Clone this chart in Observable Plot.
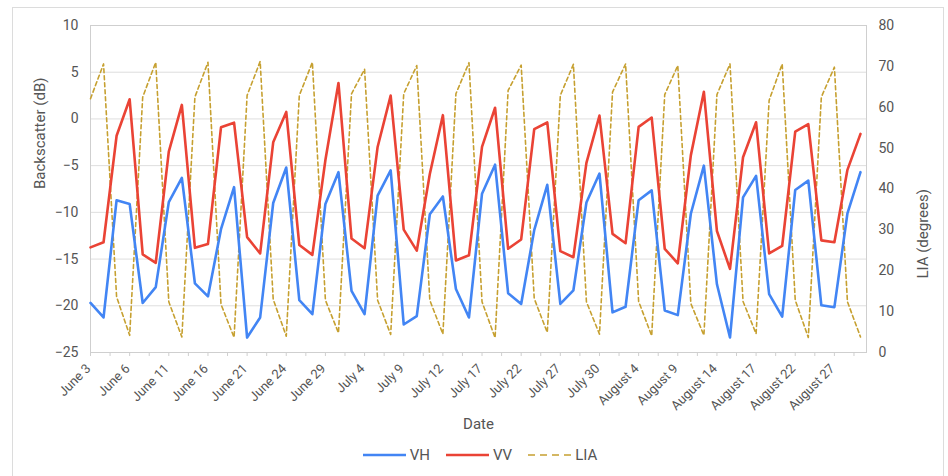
<!DOCTYPE html>
<html>
<head>
<meta charset="utf-8">
<script src="https://cdn.jsdelivr.net/npm/d3@7"></script>
<script src="https://cdn.jsdelivr.net/npm/@observablehq/plot@0.6"></script>
<style>
  html, body { margin: 0; padding: 0; background: #fff; }
  #wrap { position: relative; width: 948px; height: 476px; overflow: hidden; background: #fff; font-family: Roboto, "Liberation Sans", Arial, sans-serif; }
  #border { position: absolute; left: 12px; top: 7px; width: 932px; height: 520px; border: 1px solid #dcdcdc; box-sizing: border-box; }
  #chart { position: absolute; left: 0; top: 0; }
  #legend { position: absolute; left: 0; top: 446px; width: 948px; display: flex; justify-content: center; align-items: center; font-size: 15px; color: #555; padding-left: 12px; box-sizing: border-box; }
  .item { display: flex; align-items: center; margin: 0 8px; }
  .item span { margin-left: 4px; }
</style>
</head>
<body>
<div id="wrap">
  <div id="border"></div>
  <div id="chart"></div>
  <div id="legend"></div>
</div>
<script>
// Tick labels shown on the x axis (every third observation)
const tickLabels = ["June 3", "June 6", "June 11", "June 16", "June 21", "June 24", "June 29",
  "July 4", "July 9", "July 12", "July 17", "July 22", "July 27", "July 30",
  "August 4", "August 9", "August 14", "August 17", "August 22", "August 27"];

// VH backscatter (dB)
const vh = [-19.7, -21.25, -8.7, -9.1, -19.7, -18.0, -8.9, -6.3, -17.6, -19.0,
  -11.8, -7.3, -23.4, -21.25, -9.0, -5.2, -19.4, -20.9, -9.1, -5.7,
  -18.4, -20.9, -8.2, -5.5, -22.0, -21.1, -10.2, -8.3, -18.2, -21.25,
  -8.0, -4.9, -18.65, -19.8, -11.9, -7.05, -19.8, -18.35, -8.95, -5.85,
  -20.7, -20.1, -8.7, -7.65, -20.5, -21.0, -10.15, -5.0, -17.7, -23.4,
  -8.4, -6.1, -18.75, -21.15, -7.6, -6.6, -19.95, -20.15, -10.1, -5.7];

// VV backscatter (dB)
const vv = [-13.75, -13.2, -1.8, 2.1, -14.5, -15.4, -3.5, 1.5, -13.8, -13.4,
  -0.9, -0.4, -12.65, -14.4, -2.5, 0.75, -13.5, -14.55, -4.4, 3.85,
  -12.8, -13.85, -3.0, 2.5, -11.85, -14.1, -5.9, 0.4, -15.15, -14.6,
  -3.0, 1.2, -13.9, -12.9, -1.1, -0.38, -14.15, -14.8, -4.7, 0.36,
  -12.3, -13.3, -0.85, 0.15, -13.9, -15.45, -3.9, 2.9, -12.0, -16.05,
  -4.1, -0.36, -14.4, -13.6, -1.36, -0.55, -13.0, -13.2, -5.45, -1.6];

// Local incidence angle (degrees)
const lia = [62.1, 70.6, 13.6, 4.2, 62.5, 71.0, 12.4, 3.8, 62.5, 71.0,
  11.8, 3.7, 62.9, 71.2, 13.0, 4.0, 62.9, 71.0, 12.8, 4.8,
  63.3, 69.3, 12.8, 4.4, 63.3, 70.2, 12.8, 4.5, 63.3, 70.9,
  12.4, 3.6, 64.1, 70.3, 13.2, 4.9, 62.9, 70.5, 12.4, 4.5,
  63.7, 70.6, 12.5, 4.1, 63.1, 70.2, 12.0, 4.2, 63.1, 70.6,
  12.5, 4.6, 61.7, 70.6, 12.8, 3.7, 62.5, 69.8, 12.4, 3.8];

const dbTicks = [-25, -20, -15, -10, -5, 0, 5, 10];
const liaTicks = [0, 10, 20, 30, 40, 50, 60, 70, 80];

const series = [
  {name: "VH", color: "#4285f4", dash: null},
  {name: "VV", color: "#ea4335", dash: null},
  {name: "LIA", color: "#c6a030", dash: "4,3"}
];

// map LIA degrees (0..80) onto the dB axis (-25..10)
const toDB = v => -25 + v * 35 / 80;
const fromDB = d => Math.round((d + 25) * 80 / 35);

const idx = (d, i) => i;

const chart = Plot.plot({
  width: 948,
  height: 440,
  marginTop: 25,
  marginLeft: 90,
  marginRight: 82,
  marginBottom: 88,
  x: {domain: [0, 59.46]},
  y: {domain: [-25, 10]},
  style: {fontFamily: "Roboto, 'Liberation Sans', Arial, sans-serif", fontSize: "14px", color: "#555", background: "transparent", overflow: "visible"},
  marks: [
    Plot.gridY(dbTicks, {stroke: "#dedede", strokeOpacity: 1}),
    Plot.frame({stroke: "#cfcfcf"}),
    Plot.axisY(dbTicks, {anchor: "left", tickSize: 0, tickPadding: 12, label: null}),
    Plot.axisY(liaTicks.map(toDB), {anchor: "right", tickSize: 0, tickPadding: 12, tickFormat: fromDB, label: null}),
    Plot.axisX(d3.range(0, 59, 1.5), {anchor: "bottom", tickSize: 4, stroke: "#cfcfcf", tickFormat: () => "", label: null}),
    Plot.axisX(tickLabels.map((_, i) => i * 3), {anchor: "bottom", tickSize: 0, tickPadding: 14, dx: -2, tickRotate: -45, fontSize: 13, tickFormat: d => tickLabels[Math.round(d / 3)], label: null}),
    Plot.line(lia, {x: idx, y: d => toDB(d), stroke: series[2].color, strokeWidth: 1.6, strokeDasharray: series[2].dash}),
    Plot.line(vh, {x: idx, y: d => d, stroke: series[0].color, strokeWidth: 2.6}),
    Plot.line(vv, {x: idx, y: d => d, stroke: series[1].color, strokeWidth: 2.6}),
    Plot.text(["Date"], {frameAnchor: "bottom", dy: 76, fontSize: 15, fill: "#555"}),
    Plot.text(["Backscatter (dB)"], {frameAnchor: "left", dx: -50, rotate: -90, fontSize: 15, fill: "#555"}),
    Plot.text(["LIA (degrees)"], {frameAnchor: "right", dx: 57, rotate: -90, fontSize: 15, fill: "#555"})
  ]
});
document.getElementById("chart").appendChild(chart);

const legend = document.getElementById("legend");
for (const s of series) {
  const item = document.createElement("div");
  item.className = "item";
  const sw = document.createElementNS("http://www.w3.org/2000/svg", "svg");
  sw.setAttribute("width", 43);
  sw.setAttribute("height", 10);
  const ln = document.createElementNS("http://www.w3.org/2000/svg", "line");
  ln.setAttribute("x1", 0); ln.setAttribute("x2", 43);
  ln.setAttribute("y1", 5); ln.setAttribute("y2", 5);
  ln.setAttribute("stroke", s.color);
  ln.setAttribute("stroke-width", s.dash ? 1.7 : 2.6);
  if (s.dash) ln.setAttribute("stroke-dasharray", "7,5");
  sw.appendChild(ln);
  const label = document.createElement("span");
  label.textContent = s.name;
  item.appendChild(sw);
  item.appendChild(label);
  legend.appendChild(item);
}
</script>
</body>
</html>
